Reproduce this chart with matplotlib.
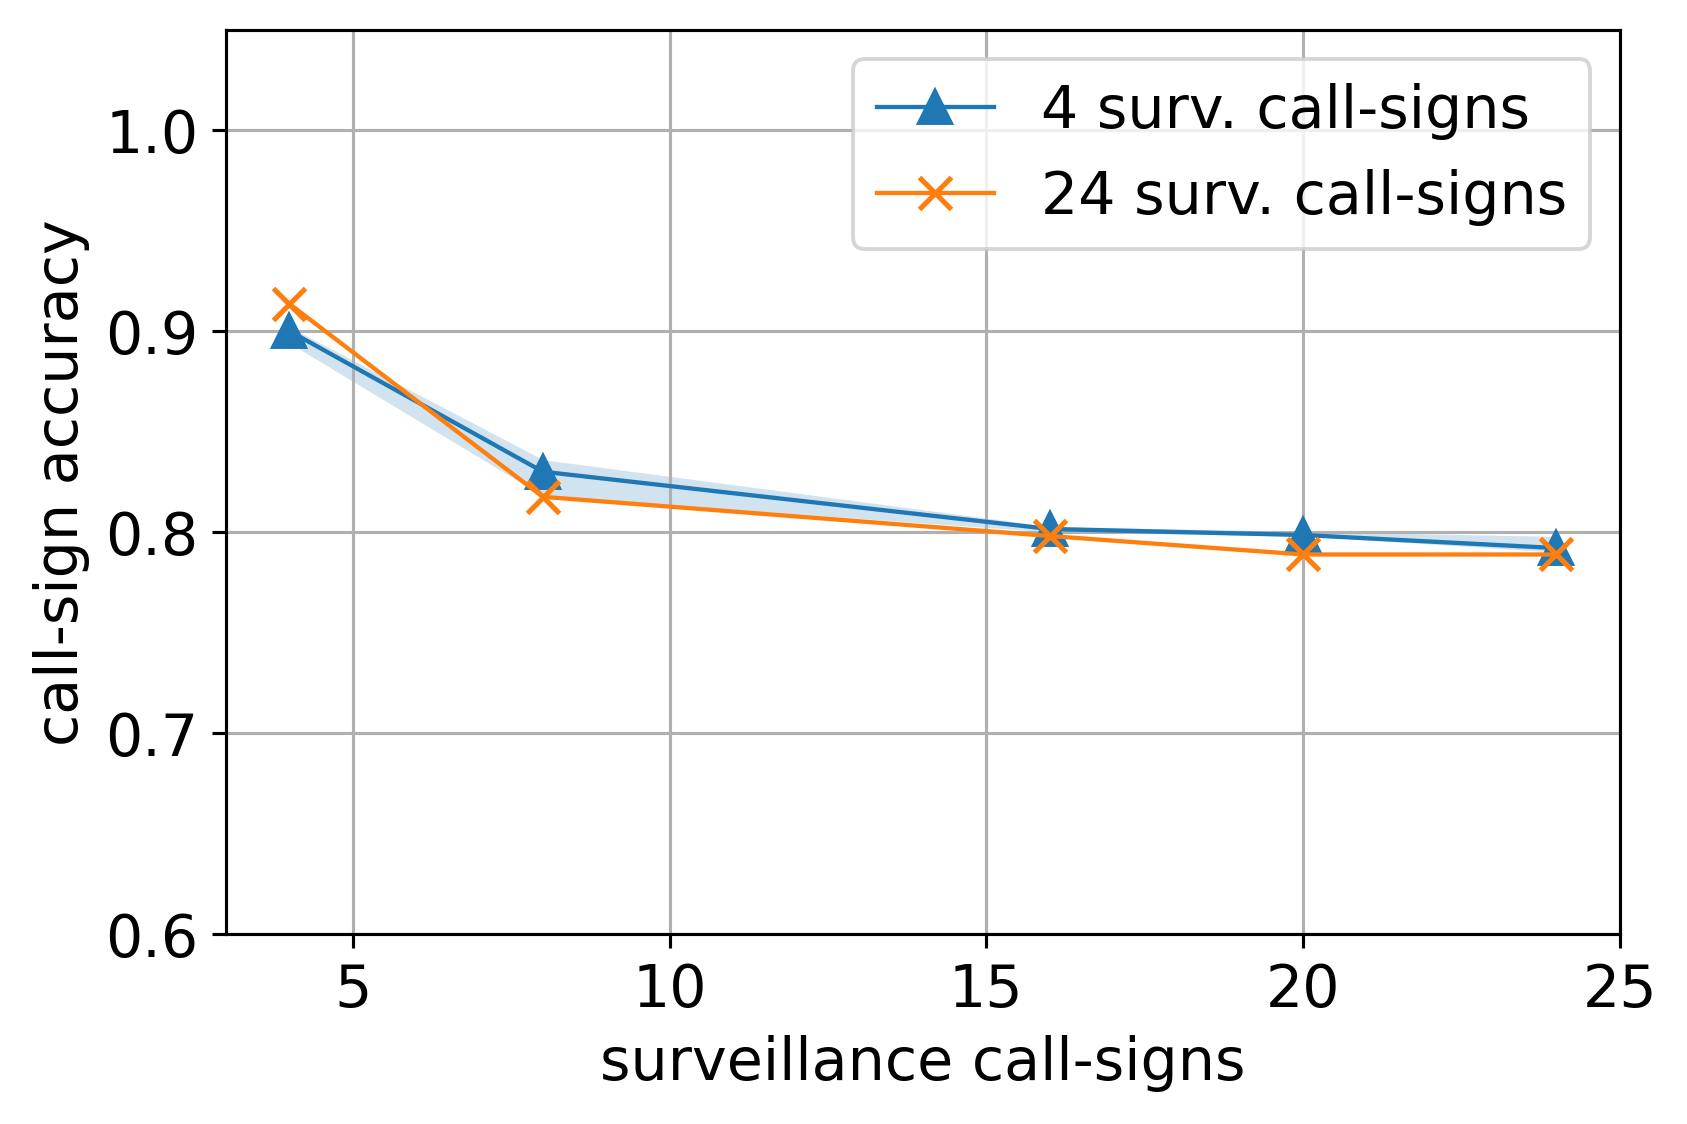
import matplotlib
matplotlib.use("Agg")
import matplotlib.pyplot as plt

# surveillance call-sign counts
x = [4, 8, 16, 20, 24]

# accuracy, model trained with 4 surveillance call-signs (+ band)
acc_4 = [0.900, 0.830, 0.8015, 0.7985, 0.792]
acc_4_lo = [0.894, 0.818, 0.800, 0.798, 0.790]
acc_4_hi = [0.902, 0.836, 0.8028, 0.8003, 0.7978]

# accuracy, model trained with 24 surveillance call-signs
acc_24 = [0.9135, 0.8175, 0.798, 0.7888, 0.7888]

fig, ax = plt.subplots(figsize=(6, 4), dpi=281.2)
fig.subplots_adjust(left=0.134, right=0.960, top=0.973, bottom=0.169)

ax.fill_between(x, acc_4_lo, acc_4_hi, color="#1f77b4", alpha=0.2, lw=0)
ax.plot(x, acc_4, "^-", color="#1f77b4", lw=1.1, ms=8, label="4 surv. call-signs")
ax.plot(x, acc_24, "x-", color="#ff7f0e", lw=1.1, ms=8, mew=1.3,
        label="24 surv. call-signs")

ax.set_xlim(3, 25)
ax.set_ylim(0.6, 1.05)
ax.set_yticks([0.6, 0.7, 0.8, 0.9, 1.0])
ax.set_xlabel("surveillance call-signs", fontsize=15)
ax.set_ylabel("call-sign accuracy", fontsize=15)
ax.tick_params(labelsize=15)
ax.grid(True)
ax.legend(loc="upper right", fontsize=15)

fig.savefig("out.png", dpi=281.2)
